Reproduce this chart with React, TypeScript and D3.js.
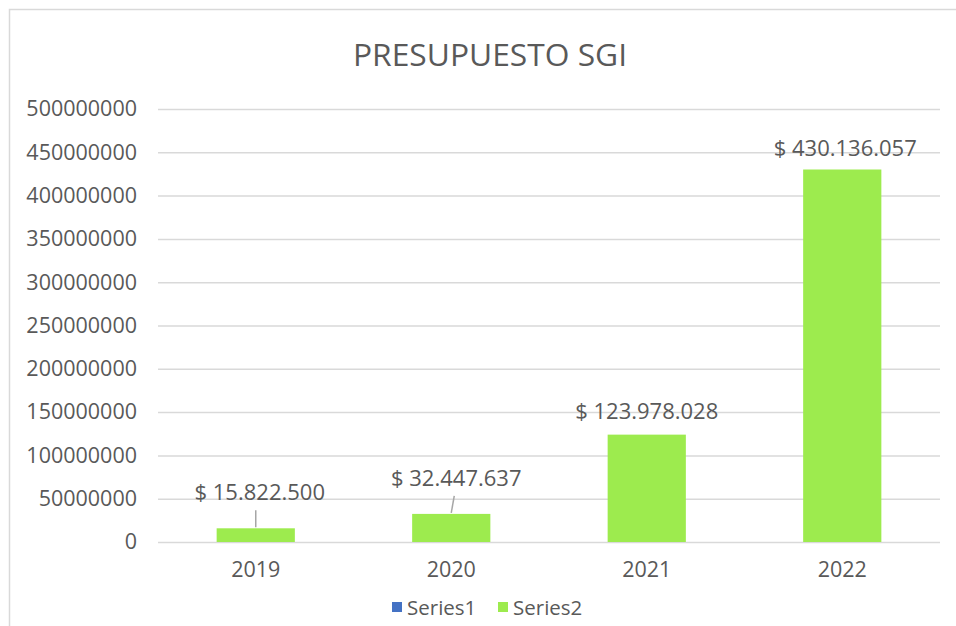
import React, { useEffect, useRef } from 'react';
import * as d3 from 'd3';

const years = ['2019', '2020', '2021', '2022'];
const series1: number[] = [];
const series2 = [15822500, 32447637, 123978028, 430136057];
const valueLabels = ['$ 15.822.500', '$ 32.447.637', '$ 123.978.028', '$ 430.136.057'];
const yTicks = [0, 50000000, 100000000, 150000000, 200000000, 250000000, 300000000, 350000000, 400000000, 450000000, 500000000];
const seriesNames = ['Series1', 'Series2'];

const App = () => {
  const ref = useRef<SVGSVGElement>(null);

  useEffect(() => {
    const svg = d3.select(ref.current);
    svg.selectAll('*').remove();
    const width = 956;
    const height = 626;
    const margin = { top: 109, right: 16, bottom: 84, left: 158 };
    const font = '"Open Sans", sans-serif';
    const textColor = '#595959';
    const green = '#9DEB4E';
    const blue = '#4472C4';

    svg.attr('width', width).attr('height', height);

    // chart frame
    svg.append('rect')
      .attr('x', 9.5).attr('y', 9.5)
      .attr('width', 970).attr('height', 640)
      .attr('fill', 'white')
      .attr('stroke', '#D9D9D9')
      .attr('stroke-width', 1.5);

    const x = d3.scaleBand()
      .domain(years)
      .range([margin.left, width - margin.right])
      .paddingInner(0.6)
      .paddingOuter(0.3);

    const y = d3.scaleLinear()
      .domain([0, 500000000])
      .range([height - margin.bottom, margin.top]);

    svg.append('text')
      .attr('x', 490).attr('y', 66)
      .attr('text-anchor', 'middle')
      .attr('font-family', font)
      .attr('font-size', 31)
      .attr('fill', textColor)
      .attr('textLength', 274)
      .attr('lengthAdjust', 'spacingAndGlyphs')
      .text('PRESUPUESTO SGI');

    // grid + y labels
    const yAxis = svg.append('g')
      .attr('transform', `translate(${margin.left},0)`)
      .call(d3.axisLeft(y).tickValues(yTicks).tickFormat(d3.format('d')).tickSize(-(width - margin.left - margin.right)).tickPadding(21))
      .call(g => g.select('.domain').remove());
    yAxis.selectAll('line').attr('stroke', '#D9D9D9').attr('stroke-width', 1.5);
    yAxis.selectAll('text')
      .attr('font-family', font)
      .attr('font-size', 21.5)
      .attr('fill', textColor);

    // x labels
    const xAxis = svg.append('g')
      .attr('transform', `translate(0,${height - margin.bottom})`)
      .call(d3.axisBottom(x).tickSize(0).tickPadding(20))
      .call(g => g.select('.domain').remove());
    xAxis.selectAll('text')
      .attr('font-family', font)
      .attr('font-size', 21.5)
      .attr('fill', textColor);

    svg.append('g')
      .selectAll('rect')
      .data(series2)
      .join('rect')
      .attr('x', (d, i) => x(years[i])!)
      .attr('y', d => y(d))
      .attr('width', x.bandwidth())
      .attr('height', d => y(0) - y(d))
      .attr('fill', green);

    // data labels, the two small ones moved up with leader lines
    const lift = [36, 36, 24, 22];
    const shift = [4, 5, 0, 3];
    const labels = svg.append('g');
    series2.forEach((v, i) => {
      const cx = x(years[i])! + x.bandwidth() / 2;
      const top = y(v);
      const ly = top - lift[i];
      if (lift[i] > 30) {
        labels.append('line')
          .attr('x1', cx + (i === 1 ? 3 : 0)).attr('y1', ly + 18)
          .attr('x2', cx).attr('y2', top - 1)
          .attr('stroke', '#A6A6A6')
          .attr('stroke-width', 1.5);
      }
      labels.append('text')
        .attr('x', cx + shift[i])
        .attr('y', ly + 8)
        .attr('text-anchor', 'middle')
        .attr('font-family', font)
        .attr('font-size', 22)
        .attr('fill', textColor)
        .text(valueLabels[i]);
    });

    // legend
    const legendItems = [
      { name: seriesNames[0], color: blue, values: series1 },
      { name: seriesNames[1], color: green, values: series2 },
    ];
    const legend = svg.append('g').attr('transform', 'translate(392,607)');
    legendItems.forEach((item, i) => {
      const g = legend.append('g').attr('transform', `translate(${i * 106},0)`);
      g.append('rect')
        .attr('x', 0).attr('y', -5)
        .attr('width', 10).attr('height', 10)
        .attr('fill', item.color);
      g.append('text')
        .attr('x', 15).attr('y', 7.5)
        .attr('font-family', font)
        .attr('font-size', 20.5)
        .attr('fill', textColor)
        .text(item.name);
    });
  }, []);

  return (
    <svg ref={ref} style={{ position: 'absolute', left: 0, top: 0 }}></svg>
  );
};

export default App;
